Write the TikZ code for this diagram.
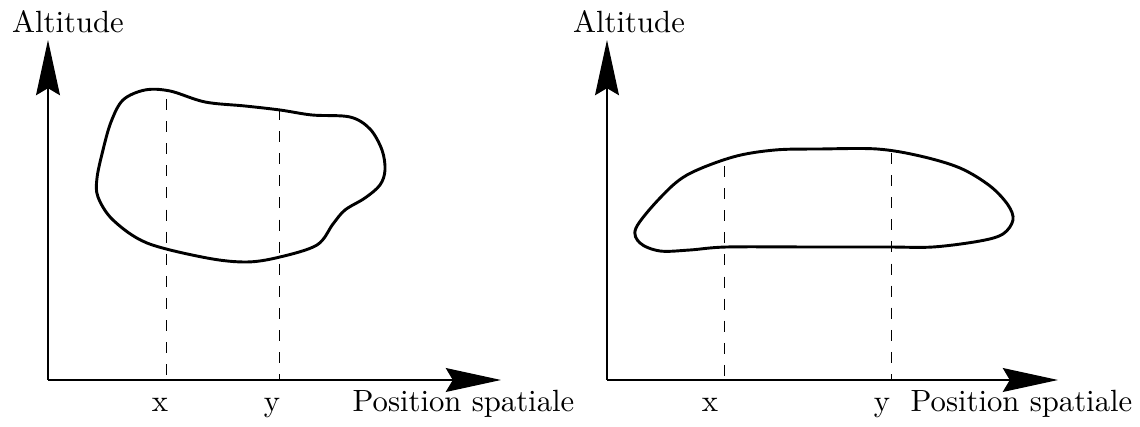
\documentclass[tikz,border=0pt]{standalone}
\usetikzlibrary{arrows.meta}
\begin{document}
\begin{tikzpicture}[x=0.3257pt,y=-0.3257pt,
  axis/.style={line width=0.4pt,-{Stealth[length=18pt,width=7.8pt,inset=2.3pt]}},
  blob/.style={line width=0.95pt,line join=round},
  guide/.style={line width=0.3pt,dash pattern=on 3.6pt off 3.6pt},
  lbl/.style={anchor=base,inner sep=0pt,font=\normalsize}]
\useasboundingbox (0,0) rectangle (1140,427);
% ---- left panel ----
\coordinate (O1) at (48,380);
\coordinate (Y1) at (48,40);
\coordinate (X1) at (501,380);
\draw[axis] (O1) -- (Y1);
\draw[axis] (O1) -- (X1);
\node[lbl] (alt1) at (68,33) {Altitude};
\node[lbl] (x1) at (160,412) {x};
\node[lbl] (y1) at (272,412) {y};
\node[lbl,anchor=base west] (pos1) at (352,412) {Position spatiale};
\coordinate (da1) at (166,99);
\coordinate (db1) at (166,380);
\coordinate (ea1) at (279,109);
\coordinate (eb1) at (279,380);
\draw[guide] (da1) -- (db1);
\draw[guide] (ea1) -- (eb1);
\draw[blob] plot[smooth cycle,tension=0.55] coordinates {
  (123,100) (145,90) (170,91) (205,102) (245,106) (280,110) (312,115)
  (350,117) (370,129) (382,150) (385,170) (380,185) (365,198) (345,210) (333,224) (317,245)
  (280,257) (247,262) (207,258) (147,243) (113,220) (98,197) (97,178)
  (103,150) (111,122)};
% ---- right panel ----
\coordinate (O2) at (607,380);
\coordinate (Y2) at (607,40);
\coordinate (X2) at (1058,380);
\draw[axis] (O2) -- (Y2);
\draw[axis] (O2) -- (X2);
\node[lbl] (alt2) at (629,33) {Altitude};
\node[lbl] (x2) at (710,412) {x};
\node[lbl] (y2) at (882,412) {y};
\node[lbl,anchor=base west] (pos2) at (910,412) {Position spatiale};
\coordinate (da2) at (724,166);
\coordinate (db2) at (724,380);
\coordinate (ea2) at (891,153);
\coordinate (eb2) at (891,380);
\draw[guide] (da2) -- (db2);
\draw[guide] (ea2) -- (eb2);
\draw[blob] plot[smooth cycle,tension=0.55] coordinates {
  (636,228) (660,198) (687,175) (733,157) (775,150) (820,149) (877,149)
  (920,156) (960,168) (990,186) (1008,205) (1013,220) (1003,234) (980,241)
  (933,247) (887,247) (810,247) (727,247) (690,250) (660,251) (640,243)};
\end{tikzpicture}
\end{document}
